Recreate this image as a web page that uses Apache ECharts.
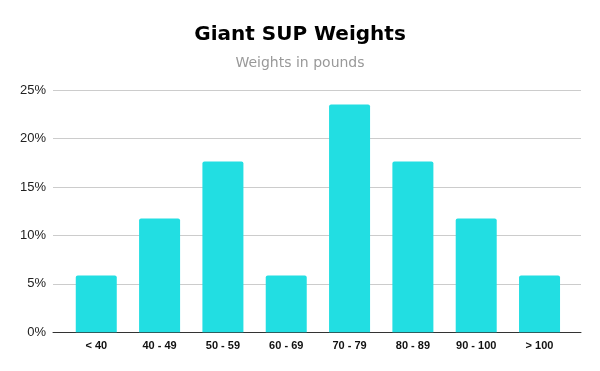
<!DOCTYPE html>
<html><head><meta charset="utf-8">
<script src="https://cdn.jsdelivr.net/npm/echarts@6/dist/echarts.min.js"></script>
<style>html,body{margin:0;padding:0;background:#fff}#c{width:600px;height:371px}</style>
</head><body><div id="c"></div>
<script>
const categories = ['< 40','40 - 49','50 - 59','60 - 69','70 - 79','80 - 89','90 - 100','> 100'];
const shares = [5.88, 11.76, 17.65, 5.88, 23.53, 17.65, 11.76, 5.88];
const yTicks = [0, 5, 10, 15, 20, 25];

const chart = echarts.init(document.getElementById('c'), null, {renderer:'canvas'});
const F = 'Liberation Sans, Arial, sans-serif';
const FT = 'DejaVu Sans, Verdana, sans-serif';
chart.setOption({
  animation:false,
  backgroundColor:'#fff',
  title:{
    text:'Giant SUP Weights', subtext:'Weights in pounds', left:'center', top:20, itemGap:11,
    textStyle:{fontFamily:FT, fontWeight:'bold', fontSize:20, color:'#000'},
    subtextStyle:{fontFamily:FT, fontSize:14, color:'#999'}
  },
  grid:[
    {left:53, right:19, top:90.3, bottom:38.7},
    {left:64.6, width:506.6, top:90.3, bottom:38.7}
  ],
  xAxis:[
    {gridIndex:0, type:'value', min:0, max:1, axisLine:{show:true, onZero:false, lineStyle:{color:'#333', width:1}},
     axisTick:{show:false}, axisLabel:{show:false}, splitLine:{show:false}},
    {gridIndex:1, type:'category', data:categories, axisLine:{show:false}, axisTick:{show:false},
     axisLabel:{fontFamily:F, fontWeight:'bold', fontSize:11, color:'#111', margin:8}}
  ],
  yAxis:[
    {gridIndex:0, type:'value', min:yTicks[0], max:yTicks[yTicks.length-1], interval:5,
     axisLine:{show:false}, axisTick:{show:false},
     axisLabel:{fontFamily:F, fontSize:13, color:'#222', margin:7, formatter:v=>v+'%'},
     splitLine:{lineStyle:{color:'#ccc', width:1}}},
    {gridIndex:1, type:'value', min:yTicks[0], max:yTicks[yTicks.length-1], interval:5, show:false,
     splitLine:{show:false}}
  ],
  series:[{
    type:'bar', xAxisIndex:1, yAxisIndex:1, data:shares, barWidth:41,
    itemStyle:{color:'#22dee2', borderRadius:[2,2,0,0]}
  }]
});
</script></body></html>
